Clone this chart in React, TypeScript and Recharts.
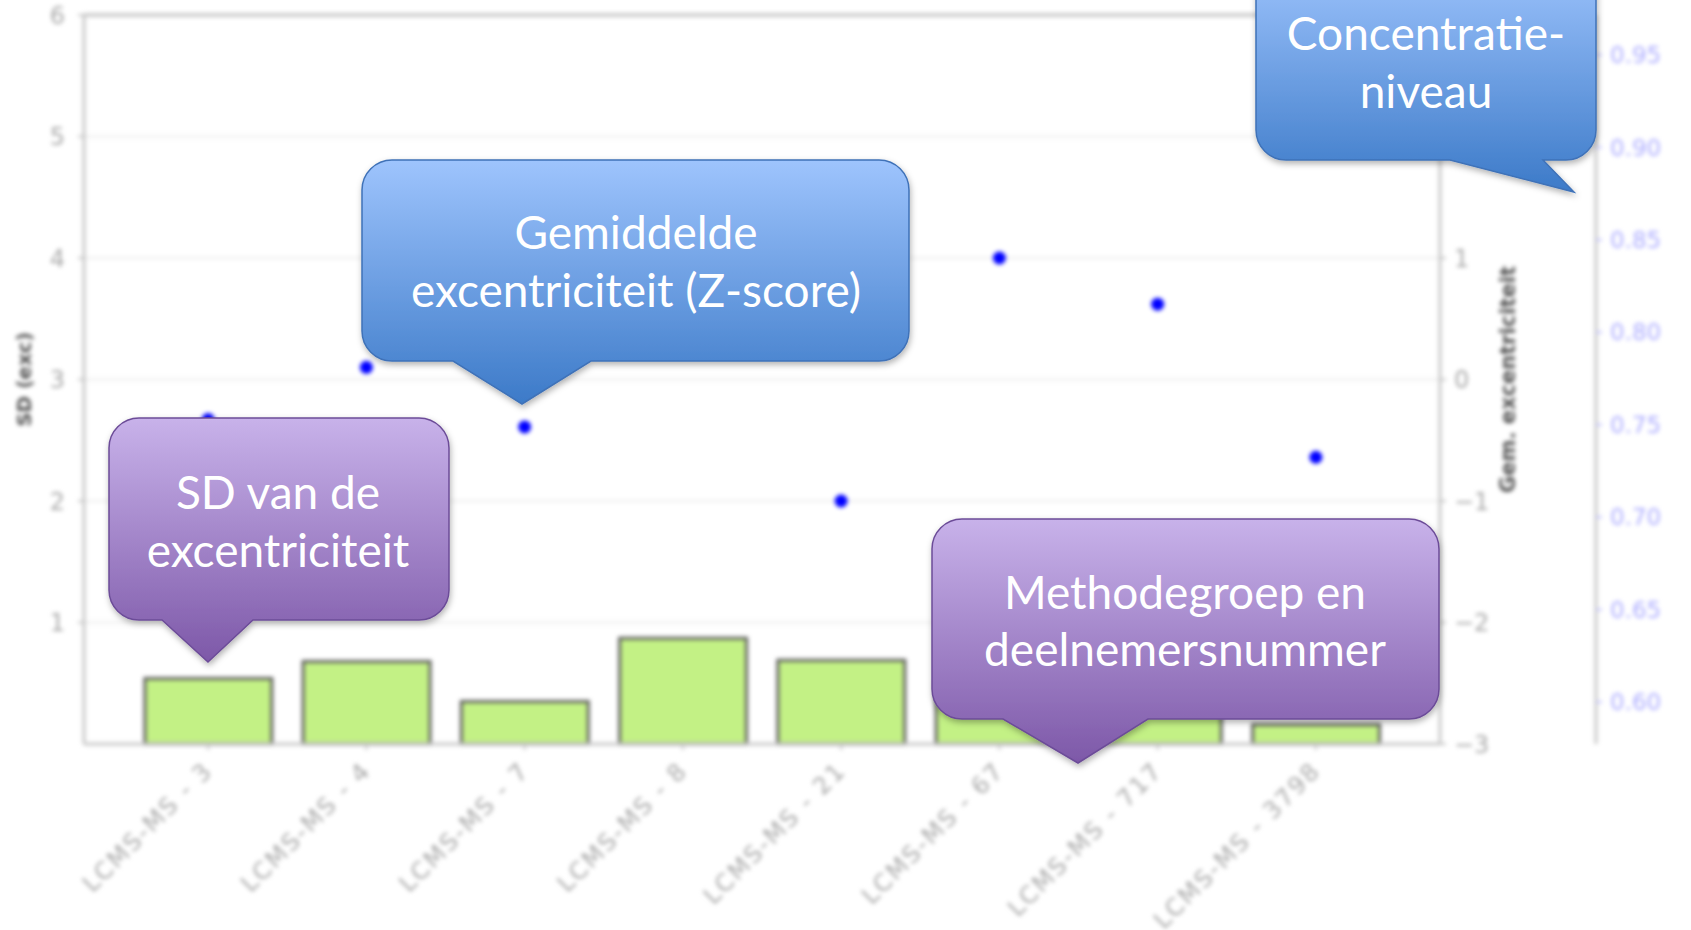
import React from "react";
import {
  ComposedChart,
  Bar,
  Scatter,
  XAxis,
  YAxis,
  CartesianGrid,
  ReferenceLine,
} from "recharts";

const categories = [
  "LCMS-MS - 3",
  "LCMS-MS - 4",
  "LCMS-MS - 7",
  "LCMS-MS - 8",
  "LCMS-MS - 21",
  "LCMS-MS - 67",
  "LCMS-MS - 717",
  "LCMS-MS - 3798",
];
// SD van de excentriciteit (left axis)
const sdValues = [0.54, 0.68, 0.35, 0.87, 0.69, 0.5, 0.35, 0.16];
// Gemiddelde excentriciteit, Z-score (right axis)
const gemValues = [-0.33, 0.1, -0.39, 0.8, -1.0, 1.0, 0.62, -0.64];

const sdTicks = [1, 2, 3, 4, 5, 6];
const gemTicks = [-3, -2, -1, 0, 1, 2, 3];
const concTicks = [0.6, 0.65, 0.7, 0.75, 0.8, 0.85, 0.9, 0.95];

const data = categories.map((name, i) => ({
  name,
  sd: sdValues[i],
  gem: gemValues[i],
}));

const W = 1691;
const H = 930;

const minus = (v: number) => String(v).replace("-", "\u2212");

function XTick(props: any) {
  const { x, y, payload } = props;
  return (
    <text
      x={x + 6}
      y={y + 20}
      transform={`rotate(-45 ${x + 6} ${y + 20})`}
      textAnchor="end"
      fontSize={24}
      letterSpacing={2}
      fill="#a9a9a9"
      fontFamily="DejaVu Sans"
    >
      {payload.value}
    </text>
  );
}

function Dot(props: any) {
  const { cx, cy } = props;
  if (cx == null || cy == null) return null;
  return <circle cx={cx} cy={cy} r={6.5} fill="#0000ff" />;
}

// rounded speech bubble with a pointer on the bottom edge
function bubble(
  x: number,
  y: number,
  w: number,
  h: number,
  r: number,
  b1: number,
  b2: number,
  tx: number,
  ty: number
) {
  const b = y + h;
  return [
    `M${x + r},${y}`,
    `H${x + w - r}`,
    `A${r},${r} 0 0 1 ${x + w},${y + r}`,
    `V${b - r}`,
    `A${r},${r} 0 0 1 ${x + w - r},${b}`,
    `H${b2}`,
    `L${tx},${ty}`,
    `L${b1},${b}`,
    `H${x + r}`,
    `A${r},${r} 0 0 1 ${x},${b - r}`,
    `V${y + r}`,
    `A${r},${r} 0 0 1 ${x + r},${y}`,
    "Z",
  ].join(" ");
}

const textStyle = {
  fill: "#ffffff",
  fontFamily: "Lato",
  fontSize: 46,
};

export default function App() {
  return (
    <div
      style={{
        position: "fixed",
        left: 0,
        top: 0,
        width: W,
        height: H,
        background: "#fff",
        overflow: "hidden",
      }}
    >
      <div style={{ filter: "blur(2.2px)" }}>
        <ComposedChart
          width={W}
          height={H}
          data={data}
          margin={{ top: 15, right: 0, bottom: 0, left: 0 }}
          barCategoryGap="10%"
        >
          <CartesianGrid
            yAxisId="a1sd"
            vertical={false}
            stroke="#ececec"
            strokeWidth={2}
          />
          <XAxis
            dataKey="name"
            height={186}
            padding={{ left: 45, right: 45 }}
            interval={0}
            tick={<XTick />}
            tickLine={{ stroke: "#c4c4c4", strokeWidth: 2 }}
            axisLine={{ stroke: "#c8c8c8", strokeWidth: 3 }}
          />
          <YAxis
            yAxisId="a1sd"
            orientation="left"
            width={84}
            domain={[0, 6]}
            ticks={sdTicks}
            tickMargin={13}
            tick={{ fontSize: 24, fill: "#a8a8a8", fontFamily: "DejaVu Sans" }}
            tickLine={{ stroke: "#c4c4c4", strokeWidth: 2 }}
            axisLine={{ stroke: "#c8c8c8", strokeWidth: 3 }}
            label={{
              value: "SD (exc)",
              angle: -90,
              position: "center",
              dx: -18,
              style: {
                fontSize: 20,
                fontWeight: "bold",
                fill: "#555555",
                fontFamily: "DejaVu Sans",
              },
            }}
          />
          <YAxis
            yAxisId="a2gem"
            orientation="right"
            width={156}
            domain={[-3, 3]}
            ticks={gemTicks}
            tickFormatter={minus}
            tickMargin={8}
            tick={{ fontSize: 24, fill: "#a8a8a8", fontFamily: "DejaVu Sans" }}
            tickLine={{ stroke: "#c4c4c4", strokeWidth: 2 }}
            axisLine={{ stroke: "#c8c8c8", strokeWidth: 3 }}
            label={{
              value: "Gem. excentriciteit",
              angle: -90,
              position: "center",
              dx: -10,
              style: {
                fontSize: 21,
                fontWeight: "bold",
                fill: "#555555",
                fontFamily: "DejaVu Sans",
              },
            }}
          />
          <YAxis
            yAxisId="a3conc"
            orientation="right"
            width={95}
            domain={[0.5773, 0.9716]}
            allowDataOverflow
            ticks={concTicks}
            tickFormatter={(v: number) => v.toFixed(2)}
            tickMargin={8}
            tick={{ fontSize: 23, fill: "#acacff", fontFamily: "DejaVu Sans" }}
            tickLine={{ stroke: "#c0c0ff", strokeWidth: 2 }}
            axisLine={{ stroke: "#c8c8c8", strokeWidth: 3 }}
          />
          <ReferenceLine
            yAxisId="a1sd"
            y={6}
            stroke="#cdcdcd"
            strokeWidth={4}
          />
          <Bar
            yAxisId="a1sd"
            dataKey="sd"
            fill="#c3f185"
            stroke="#5e5e5e"
            strokeWidth={3}
            isAnimationActive={false}
          />
          <Scatter
            yAxisId="a2gem"
            dataKey="gem"
            fill="#0000ff"
            shape={<Dot />}
            isAnimationActive={false}
          />
        </ComposedChart>
      </div>

      <svg
        width={W}
        height={H}
        style={{ position: "absolute", left: 0, top: 0 }}
      >
        <defs>
          <linearGradient id="blueFill" x1="0" y1="0" x2="0" y2="1">
            <stop offset="0%" stopColor="#9ec4fd" />
            <stop offset="100%" stopColor="#3c7ac8" />
          </linearGradient>
          <linearGradient id="purpleFill" x1="0" y1="0" x2="0" y2="1">
            <stop offset="0%" stopColor="#c8b2ea" />
            <stop offset="100%" stopColor="#7d58a8" />
          </linearGradient>
          <filter id="shadow" x="-10%" y="-10%" width="120%" height="130%">
            <feDropShadow dx="1" dy="3" stdDeviation="3" floodOpacity="0.3" />
          </filter>
        </defs>

        <g filter="url(#shadow)">
          <path
            d={bubble(362, 160, 547, 201, 30, 453, 591, 522, 404)}
            fill="url(#blueFill)"
            stroke="#3f72b8"
            strokeWidth={1.5}
          />
          <path
            d={bubble(1256, -40, 340, 200, 30, 1450, 1543, 1574, 192)}
            fill="url(#blueFill)"
            stroke="#3f72b8"
            strokeWidth={1.5}
          />
          <path
            d={bubble(109, 418, 340, 202, 30, 162, 253, 208, 662)}
            fill="url(#purpleFill)"
            stroke="#6c4c98"
            strokeWidth={1.5}
          />
          <path
            d={bubble(932, 519, 507, 200, 30, 1003, 1148, 1078, 763)}
            fill="url(#purpleFill)"
            stroke="#6c4c98"
            strokeWidth={1.5}
          />
        </g>

        <g style={textStyle} textAnchor="middle" dominantBaseline="central">
          <text x={636} y={231}>Gemiddelde</text>
          <text x={636} y={289}>excentriciteit (Z-score)</text>
          <text x={1426} y={32}>Concentratie-</text>
          <text x={1426} y={90}>niveau</text>
          <text x={278} y={491}>SD van de</text>
          <text x={278} y={549}>excentriciteit</text>
          <text x={1185} y={591}>Methodegroep en</text>
          <text x={1185} y={648}>deelnemersnummer</text>
        </g>
      </svg>
    </div>
  );
}
